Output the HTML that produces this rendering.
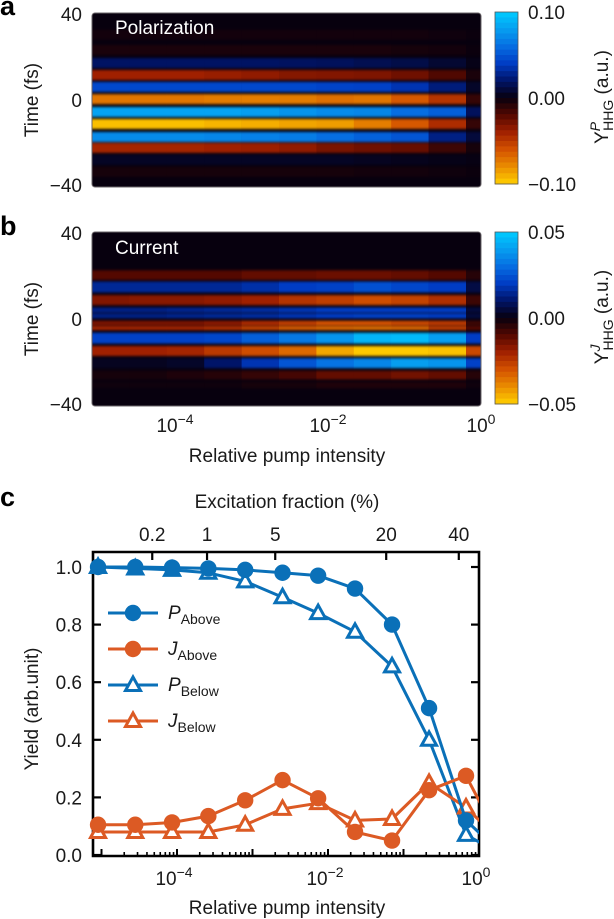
<!DOCTYPE html>
<html lang="en">
<head>
<meta charset="utf-8">
<title>High harmonic yield versus pump intensity</title>
<style>
html,body{margin:0;padding:0;background:#fff;}
svg{display:block;font-family:"Liberation Sans",Arial,sans-serif;font-size:19px;fill:#1a1a1a;}
</style>
</head>
<body>
<svg id="fig" xmlns="http://www.w3.org/2000/svg" width="614" height="919" viewBox="0 0 614 919">
  <defs>
    <filter id="vblur" filterUnits="userSpaceOnUse" x="0" y="0" width="614" height="919" color-interpolation-filters="sRGB"><feGaussianBlur stdDeviation="0 1.3"/></filter>
    <clipPath id="clipA"><rect x="92" y="13" width="389" height="174" rx="3"/></clipPath>
    <clipPath id="clipB"><rect x="92" y="232" width="389" height="174" rx="3"/></clipPath>
    <clipPath id="clipC"><rect x="70" y="530" width="409" height="340"/></clipPath>
  </defs>

  <text x="0" y="15" font-size="27" font-weight="bold" fill="#000">a</text>
  <text x="0" y="235" font-size="27" font-weight="bold" fill="#000">b</text>
  <text x="0" y="506" font-size="27" font-weight="bold" fill="#000">c</text>

  <g id="heatA"></g>
  <g id="heatB"></g>
  <text x="115" y="34" style="fill:#fff">Polarization</text>
  <text x="115" y="254" style="fill:#fff">Current</text>

  <text transform="translate(38,100) rotate(-90)" text-anchor="middle">Time (fs)</text>
  <text transform="translate(38,319) rotate(-90)" text-anchor="middle">Time (fs)</text>
  <g id="timeTicks"></g>

  <g id="barA"></g>
  <g id="barB"></g>
  <g id="barLabels"></g>

  <text transform="translate(608,97) rotate(-90)" text-anchor="middle">Y<tspan font-size="14" font-style="italic" dy="-8">P</tspan><tspan font-size="14" dx="-9" dy="13">HHG</tspan><tspan dy="-5"> (a.u.)</tspan></text>
  <text transform="translate(608,317) rotate(-90)" text-anchor="middle">Y<tspan font-size="14" font-style="italic" dy="-8">J</tspan><tspan font-size="14" dx="-6" dy="13">HHG</tspan><tspan dy="-5"> (a.u.)</tspan></text>

  <g id="heatXLabels"></g>
  <text x="287" y="462" text-anchor="middle">Relative pump intensity</text>

  <text x="287" y="508" text-anchor="middle">Excitation fraction (%)</text>
  <text transform="translate(38,709) rotate(-90)" text-anchor="middle">Yield (arb.unit)</text>
  <text x="287" y="914" text-anchor="middle">Relative pump intensity</text>

  <g id="axesC"></g>
  <g id="seriesC"></g>
  <g id="legendC"></g>
</svg>

<script>
// ---------- Heatmap data (values in a.u.; rows = time bands, columns = pump steps) ----------
const polarizationTimes = [30, 23, 17, 11.5, 6, 0.4, -5.5, -11, -17, -22, -27.5, -33];
const polarizationWidths = [4.6, 4.6, 4.6, 4.6, 4.6, 4.6, 4.6, 4.6, 4.6, 4.6, 4.6, 4.6];
const polarizationValues = [
  [-.003,-.003,-.003,-.003,-.003,-.003,-.003,-.003,-.003,-.002,-.001],
  [-.005,-.005,-.005,-.005,-.005,-.005,-.005,-.005,-.004,-.003,-.001],
  [.019,.019,.019,.019,.019,.018,.017,.015,.013,.008,.002],
  [-.04,-.04,-.04,-.038,-.036,-.033,-.032,-.031,-.027,-.019,-.005],
  [.045,.045,.045,.045,.045,.045,.043,.042,.036,.024,.006],
  [-.072,-.072,-.072,-.074,-.075,-.074,-.07,-.072,-.062,-.048,-.012],
  [.082,.082,.082,.082,.08,.076,.072,.07,.06,.054,.017],
  [-.095,-.095,-.095,-.092,-.09,-.087,-.085,-.075,-.062,-.045,-.012],
  [.072,.072,.072,.07,.068,.066,.06,.055,.05,.026,.01],
  [-.042,-.042,-.042,-.04,-.039,-.036,-.03,-.027,-.025,-.014,-.004],
  [.005,.005,.005,.005,.005,.005,.005,.004,.003,.002,.001],
  [-.004,-.004,-.004,-.004,-.004,-.004,-.004,-.003,-.003,-.002,-.001]
];
const currentTimes = [20.2, 14.7, 8.7, 4.1, 1.4, -1.9, -4.2, -8.8, -14.7, -20.3, -25.8, -30.4];
const currentWidths = [4.4, 5, 4.6, 2.4, 2.2, 2.2, 1.8, 5, 4.6, 4.6, 4, 3];
const currentValues = [
  [-.01,-.01,-.01,-.01,-.012,-.012,-.013,-.013,-.012,-.01,-.004],
  [.015,.015,.015,.015,.017,.02,.021,.024,.022,.02,.006],
  [-.016,-.017,-.017,-.018,-.02,-.024,-.026,-.029,-.027,-.023,-.007],
  [.013,.013,.014,.015,.016,.018,.02,.02,.02,.02,.005],
  [.013,.013,.014,.015,.016,.018,.02,.021,.021,.02,.005],
  [-.015,-.015,-.015,-.017,-.022,-.026,-.03,-.03,-.028,-.025,-.007],
  [-.021,-.021,-.021,-.023,-.027,-.032,-.034,-.035,-.034,-.026,-.01],
  [.021,.021,.021,.022,.027,.032,.038,.045,.046,.04,.02],
  [-.02,-.02,-.021,-.025,-.029,-.034,-.044,-.049,-.049,-.048,-.028],
  [.002,.002,.003,.01,.018,.025,.031,.035,.04,.038,.021],
  [-.002,-.002,-.003,-.004,-.006,-.008,-.012,-.012,-.014,-.012,-.004],
  [-.001,-.001,-.001,-.001,-.002,-.002,-.003,-.003,-.003,-.003,-.001]
];
const timeTickValues = [40, 0, -40];
const barTicksA = [0.10, 0.00, -0.10];
const barTicksB = [0.05, 0.00, -0.05];
const heatXExponents = [-4, -2, 0];

// ---------- Yield chart data ----------
const pumpIntensity = [9.0e-6, 2.8e-5, 8.6e-5, 2.6e-4, 8.0e-4, 2.5e-3, 7.4e-3, 0.0228, 0.0705, 0.218, 0.673, 2.08];
const pAbove = [1.0, 1.0, 0.998, 0.995, 0.99, 0.98, 0.97, 0.925, 0.80, 0.51, 0.12, 0.0];
const jAbove = [0.105, 0.105, 0.113, 0.135, 0.19, 0.26, 0.197, 0.08, 0.05, 0.225, 0.275, 0.03];
const pBelow = [1.0, 0.995, 0.99, 0.98, 0.95, 0.895, 0.84, 0.775, 0.655, 0.40, 0.07, 0.0];
const jBelow = [0.08, 0.08, 0.08, 0.08, 0.105, 0.16, 0.18, 0.12, 0.125, 0.25, 0.165, 0.04];
const yieldTicks = [0.0, 0.2, 0.4, 0.6, 0.8, 1.0];
const yieldTickLabels = ["0.0", "0.2", "0.4", "0.6", "0.8", "1.0"];
const topTickLabels = ["0.2", "1", "5", "20", "40"];
const topTickIntensity = [4.7e-5, 2.5e-4, 2.0e-3, 0.059, 0.54];
const decadeExponents = [-5, -4, -3, -2, -1, 0];
const labelledExponents = [-4, -2, 0];

const NS = "http://www.w3.org/2000/svg";
function make(tag, parent, attrs, txt) {
  const el = document.createElementNS(NS, tag);
  for (const k in attrs) el.setAttribute(k, attrs[k]);
  if (txt !== undefined) el.textContent = txt;
  parent.appendChild(el);
  return el;
}
function fmtMinus(s) { return s.replace("-", "\u2212"); }

// ---------- Colour map: v in [-1, 1] ----------
const cmapStops = [
  [-1, [255,208,0]], [-.8, [234,140,0]], [-.6, [212,82,0]], [-.4, [160,32,0]], [-.2, [84,8,0]],
  [0, [7,0,14]],
  [.2, [0,20,104]], [.4, [0,60,196]], [.6, [6,110,226]], [.8, [6,158,240]], [1, [0,204,255]]
];
function cmap(v) {
  v = Math.max(-1, Math.min(1, v));
  for (let i = 1; i < cmapStops.length; i++) {
    if (v <= cmapStops[i][0]) {
      const a = cmapStops[i-1], b = cmapStops[i], f = (v - a[0]) / (b[0] - a[0]);
      const c = a[1].map((x, j) => Math.round(x + (b[1][j] - x) * f));
      return "rgb(" + c.join(",") + ")";
    }
  }
  return "rgb(0,204,255)";
}

// ---------- Heatmaps ----------
function drawHeat(group, top, clip, times, widths, values, vmax) {
  const left = 92, colW = 37.4, H = 174;
  const y = t => top + (40 - t) * H / 80;
  const frame = make("g", group, {"clip-path": "url(#" + clip + ")"});
  const bg = make("rect", frame, {x: left, y: top, width: 389, height: H, fill: "#07000e"});
  
  
  const rows = make("g", frame, {filter: "url(#vblur)"});
  make("rect", rows, {x: left - 5, y: top - 5, width: 400, height: H + 10, fill: "#07000e"});
  times.forEach((t, r) => {
    values[r].forEach((v, c) => {
      const cell = make("rect", rows, {
        x: left + c * colW, y: y(t + widths[r] / 2),
        width: colW + 0.3, height: y(t - widths[r] / 2) - y(t + widths[r] / 2),
        fill: cmap(v / vmax)
      });
      
      
    });
  });
  const border = make("rect", group, {x: left, y: top, width: 389, height: H, rx: 3, fill: "none", stroke: "#6a6468", "stroke-width": 1});
  
  
}
drawHeat(document.getElementById("heatA"), 13, "clipA", polarizationTimes, polarizationWidths, polarizationValues, 0.10);
drawHeat(document.getElementById("heatB"), 232, "clipB", currentTimes, currentWidths, currentValues, 0.05);

// ---------- Colourbars ----------
function drawBar(group, top) {
  const H = 172, steps = 32, h = H / steps;
  for (let i = 0; i < steps; i++) {
    const step = make("rect", group, {x: 495, y: top + i * h, width: 23, height: h + 0.4, fill: cmap(1 - (i + 0.5) * 2 / steps)});
    
    
  }
  const edge = make("rect", group, {x: 495, y: top, width: 23, height: H, fill: "none", stroke: "#555", "stroke-width": 0.8});
  
  
}
drawBar(document.getElementById("barA"), 12);
drawBar(document.getElementById("barB"), 232);

const barLabelGroup = document.getElementById("barLabels");
function barLabels(ticks, top) {
  ticks.forEach(v => {
    const yy = top + 86 - (v / ticks[0]) * 86;
    const lbl = make("text", barLabelGroup, {x: 528, y: yy + 7}, fmtMinus(v.toFixed(2)));
    
    
  });
}
barLabels(barTicksA, 12);
barLabels(barTicksB, 232);

// ---------- Time tick labels ----------
const timeGroup = document.getElementById("timeTicks");
[13, 232].forEach(top => {
  timeTickValues.forEach(t => {
    const yy = top + (40 - t) * 174 / 80;
    const off = t === 40 ? 8 : (t === 0 ? 7 : 5);
    const lbl = make("text", timeGroup, {x: 82, y: yy + off, "text-anchor": "end"}, fmtMinus(String(t)));
    
    
  });
});

// ---------- Power-of-ten labels ----------
function powerLabel(parent, cx, base, exp) {
  const t = make("text", parent, {x: cx, y: base, "text-anchor": "middle"});
  make("tspan", t, {}, "10");
  make("tspan", t, {"font-size": 14, dy: -8}, fmtMinus(String(exp)));
  return t;
}
const heatXGroup = document.getElementById("heatXLabels");
const heatX = e => 481 + e * 76.5;
heatXExponents.forEach(e => {
  const lbl = powerLabel(heatXGroup, heatX(e), 432, e);
  
  
});

// ---------- Yield chart ----------
const plotLeft = 93, plotRight = 479, plotTop = 552, plotBottom = 856;
const xScale = v => plotRight + Math.log10(v) * 75.5;
const yScale = v => 855 - v * 288;
const axes = document.getElementById("axesC");
const series = document.getElementById("seriesC");
const BLUE = "#0a70b8", ORANGE = "#dc5a24";

const frameC = make("path", axes, {d: "M" + plotLeft + " " + plotBottom + "V" + plotTop + "H" + plotRight + "V" + plotBottom + "Z", fill: "none", stroke: "#000", "stroke-width": 2.6});



yieldTicks.forEach((v, i) => {
  const yy = yScale(v);
  const tl = make("line", axes, {x1: plotLeft, x2: plotLeft + 8, y1: yy, y2: yy, stroke: "#000", "stroke-width": 2.2});
  
  
  const tr = make("line", axes, {x1: plotRight, x2: plotRight - 8, y1: yy, y2: yy, stroke: "#000", "stroke-width": 2.2});
  
  
  const lbl = make("text", axes, {x: 82, y: yy + 7, "text-anchor": "end"}, yieldTickLabels[i]);
  
  
});

topTickIntensity.forEach((v, i) => {
  const xx = xScale(v);
  const tk = make("line", axes, {x1: xx, x2: xx, y1: plotTop, y2: plotTop + 8, stroke: "#000", "stroke-width": 2.2});
  
  
  const lbl = make("text", axes, {x: xx, y: 541, "text-anchor": "middle"}, topTickLabels[i]);
  
  
});

decadeExponents.forEach(e => {
  const xx = xScale(Math.pow(10, e));
  const tk = make("line", axes, {x1: xx, x2: xx, y1: plotBottom, y2: plotBottom - 7, stroke: "#000", "stroke-width": 2});
  
  
  if (e < 0) {
    for (let m = 2; m < 10; m++) {
      const mx = xScale(m * Math.pow(10, e));
      const mt = make("line", axes, {x1: mx, x2: mx, y1: plotBottom, y2: plotBottom - 4, stroke: "#000", "stroke-width": 1.6});
      
      
    }
  }
  if (labelledExponents.indexOf(e) >= 0) {
    const lbl = powerLabel(axes, xx - 3, 885, e);
    
    
  }
});

function marker(parent, kind, color, x, y) {
  if (kind === "circle") {
    return make("circle", parent, {cx: x, cy: y, r: 8.2, fill: color});
  }
  return make("path", parent, {
    d: "M" + x + " " + (y - 8) + "L" + (x + 7.5) + " " + (y + 5.5) + "H" + (x - 7.5) + "Z",
    fill: "#fff", stroke: color, "stroke-width": 3, "stroke-linejoin": "miter"
  });
}

function drawSeries(values, color, kind, name) {
  const g = make("g", series, {"clip-path": "url(#clipC)"});
  
  
  const pts = values.map((v, i) => xScale(pumpIntensity[i]).toFixed(1) + "," + yScale(v).toFixed(1)).join(" ");
  const line = make("polyline", g, {points: pts, fill: "none", stroke: color, "stroke-width": 3, "stroke-linejoin": "round"});
  
  
  values.forEach((v, i) => {
    const m = marker(g, kind, color, xScale(pumpIntensity[i]), yScale(v));
    
    
  });
}
drawSeries(pBelow, BLUE, "triangle", "p-below");
drawSeries(jBelow, ORANGE, "triangle", "j-below");
drawSeries(pAbove, BLUE, "circle", "p-above");
drawSeries(jAbove, ORANGE, "circle", "j-above");

// ---------- Legend ----------
const legendLetters = ["P", "J", "P", "J"];
const legendSubs = ["Above", "Above", "Below", "Below"];
const legendColors = [BLUE, ORANGE, BLUE, ORANGE];
const legendKinds = ["circle", "circle", "triangle", "triangle"];
const legend = document.getElementById("legendC");
legendLetters.forEach((L, i) => {
  const yy = 613 + i * 36;
  const g = make("g", legend, {});
  
  
  make("line", g, {x1: 108, x2: 158, y1: yy, y2: yy, stroke: legendColors[i], "stroke-width": 3});
  marker(g, legendKinds[i], legendColors[i], 133, yy);
  const t = make("text", g, {x: 168, y: yy + 6});
  make("tspan", t, {"font-style": "italic"}, L);
  make("tspan", t, {"font-size": 14, dy: 5}, legendSubs[i]);
});
</script>
</body>
</html>
